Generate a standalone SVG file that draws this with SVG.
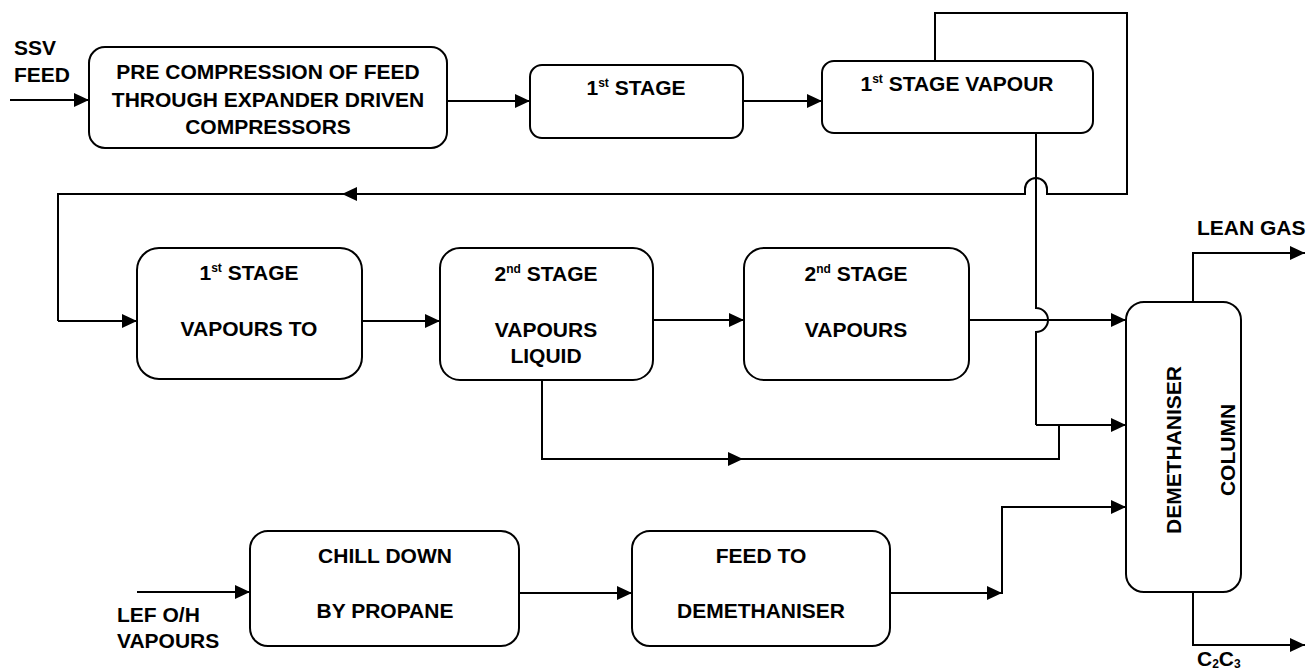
<svg xmlns="http://www.w3.org/2000/svg" width="1306" height="672" viewBox="0 0 1306 672">
  <defs>
    <marker id="arrow" markerUnits="userSpaceOnUse" markerWidth="15" markerHeight="14" refX="15" refY="7" orient="auto">
      <path d="M0,0 L15,7 L0,14 Z" fill="#000"/>
    </marker>
    <style>
      .box { fill: #fff; stroke: #000; stroke-width: 2; }
      .line { fill: none; stroke: #000; stroke-width: 2; }
      .arr { fill: none; stroke: #000; stroke-width: 2; marker-end: url(#arrow); }
      text { font-family: "Liberation Sans", Arial, sans-serif; font-weight: bold; font-size: 21px; fill: #000; }
      .c { text-anchor: middle; }
      .sup { font-size: 12px; }
    </style>
  </defs>
  <rect width="1306" height="672" fill="#fff"/>

  <!-- connectors -->
  <g id="connectors">
    <!-- SSV feed in -->
    <line class="arr" x1="10" y1="100" x2="89" y2="100"/>
    <line class="arr" x1="447" y1="101" x2="530" y2="101"/>
    <line class="arr" x1="743" y1="101" x2="822" y2="101"/>
    <!-- recycle loop over 1st stage vapour -->
    <path class="line" d="M935,61 V13 H1127 V194 H1047 V189 A11,11 0 0 0 1025,189 V194 H345"/>
    <line class="arr" x1="360" y1="194" x2="342" y2="194"/>
    <path class="line" d="M345,194 H58 V321"/>
    <line class="arr" x1="58" y1="321" x2="137" y2="321"/>
    <!-- 1st stage vapour down to column -->
    <path class="line" d="M1036,133 V308 A12,12 0 0 1 1036,332 V425"/>
    <line class="arr" x1="1036" y1="425" x2="1126" y2="425"/>
    <!-- middle row -->
    <line class="arr" x1="362" y1="321" x2="440" y2="321"/>
    <line class="arr" x1="653" y1="320" x2="744" y2="320"/>
    <line class="arr" x1="969" y1="320" x2="1126" y2="320"/>
    <!-- liquid from 2nd stage -->
    <path class="line" d="M542,380 V459 H728"/>
    <line class="arr" x1="720" y1="459" x2="743" y2="459"/>
    <path class="line" d="M740,459 H1059 V425"/>
    <!-- bottom row -->
    <line class="arr" x1="137" y1="592" x2="250" y2="592"/>
    <line class="arr" x1="519" y1="593" x2="632" y2="593"/>
    <line class="arr" x1="890" y1="593" x2="1002" y2="593"/>
    <path class="line" d="M1002,594 V507"/>
    <line class="arr" x1="1001" y1="507" x2="1126" y2="507"/>
    <!-- products -->
    <path class="line" d="M1193,302 V253"/>
    <line class="arr" x1="1192" y1="253" x2="1305" y2="253"/>
    <path class="line" d="M1193,592 V645"/>
    <line class="arr" x1="1192" y1="645" x2="1305" y2="645"/>
  </g>

  <!-- stream labels -->
  <g id="labels">
    <text x="14" y="55">SSV</text>
    <text x="14" y="82">FEED</text>
    <text x="1197" y="235">LEAN GAS</text>
    <text x="1197" y="666">C<tspan class="sup" dy="2">2</tspan><tspan dy="-2">C</tspan><tspan class="sup" dy="2">3</tspan></text>
    <text x="117" y="622">LEF O/H</text>
    <text x="117" y="648">VAPOURS</text>
  </g>

  <g id="pre-compression">
    <rect class="box" x="89" y="47" width="358" height="101" rx="16"/>
    <text class="c" x="268" y="79">PRE COMPRESSION OF FEED</text>
    <text class="c" x="268" y="107">THROUGH EXPANDER DRIVEN</text>
    <text class="c" x="268" y="134">COMPRESSORS</text>
  </g>

  <g id="first-stage">
    <rect class="box" x="530" y="65" width="213" height="73" rx="12"/>
    <text class="c" x="636" y="95">1<tspan class="sup" dy="-8">st</tspan><tspan dy="8"> STAGE</tspan></text>
  </g>

  <g id="first-stage-vapour">
    <rect class="box" x="822" y="61" width="271" height="72" rx="12"/>
    <text class="c" x="957" y="91">1<tspan class="sup" dy="-8">st</tspan><tspan dy="8"> STAGE VAPOUR</tspan></text>
  </g>

  <g id="first-stage-vapours-to">
    <rect class="box" x="137" y="248" width="225" height="131" rx="22"/>
    <text class="c" x="249" y="280">1<tspan class="sup" dy="-8">st</tspan><tspan dy="8"> STAGE</tspan></text>
    <text class="c" x="249" y="336">VAPOURS TO</text>
  </g>

  <g id="second-stage-liquid">
    <rect class="box" x="440" y="248" width="213" height="132" rx="20"/>
    <text class="c" x="546" y="281">2<tspan class="sup" dy="-8">nd</tspan><tspan dy="8"> STAGE</tspan></text>
    <text class="c" x="546" y="337">VAPOURS</text>
    <text class="c" x="546" y="363">LIQUID</text>
  </g>

  <g id="second-stage-vapours">
    <rect class="box" x="744" y="248" width="225" height="132" rx="20"/>
    <text class="c" x="856" y="281">2<tspan class="sup" dy="-8">nd</tspan><tspan dy="8"> STAGE</tspan></text>
    <text class="c" x="856" y="337">VAPOURS</text>
  </g>

  <g id="demethaniser-column">
    <rect class="box" x="1126" y="302" width="115" height="290" rx="18"/>
    <text class="c" transform="translate(1181,450) rotate(-90)">DEMETHANISER</text>
    <text class="c" transform="translate(1235,450) rotate(-90)">COLUMN</text>
  </g>

  <g id="chill-down">
    <rect class="box" x="250" y="531" width="269" height="115" rx="18"/>
    <text class="c" x="385" y="563">CHILL DOWN</text>
    <text class="c" x="385" y="618">BY PROPANE</text>
  </g>

  <g id="feed-to-demethaniser">
    <rect class="box" x="632" y="531" width="258" height="115" rx="18"/>
    <text class="c" x="761" y="563">FEED TO</text>
    <text class="c" x="761" y="618">DEMETHANISER</text>
  </g>
</svg>
